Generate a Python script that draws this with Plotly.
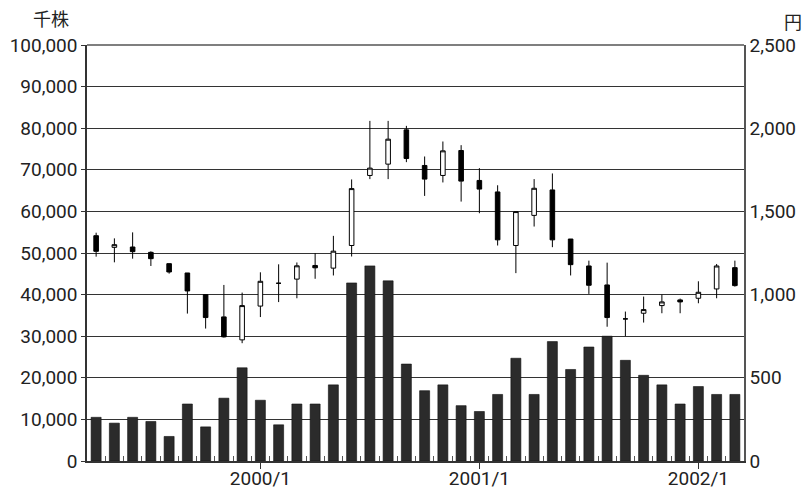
import plotly.graph_objects as go

months = ["1999/4", "1999/5", "1999/6", "1999/7", "1999/8", "1999/9", "1999/10", "1999/11", "1999/12",
          "2000/1", "2000/2", "2000/3", "2000/4", "2000/5", "2000/6", "2000/7", "2000/8", "2000/9",
          "2000/10", "2000/11", "2000/12", "2001/1", "2001/2", "2001/3", "2001/4", "2001/5", "2001/6",
          "2001/7", "2001/8", "2001/9", "2001/10", "2001/11", "2001/12", "2002/1", "2002/2", "2002/3"]

# 出来高 (千株)
volume = [10500, 9100, 10500, 9500, 5900, 13700, 8200, 15100, 22400, 14600, 8700, 13700,
          13700, 18300, 42800, 46900, 43300, 23300, 16900, 18300, 13300, 11900, 16000, 24700,
          16000, 28700, 22000, 27400, 30000, 24200, 20600, 18300, 13700, 17900, 16000, 16000]

# 株価 (円)
price_open = [1354, 1284, 1286, 1254, 1186, 1130, 1000, 866, 728, 931, 1068, 1093,
              1175, 1159, 1295, 1716, 1784, 1990, 1776, 1716, 1866, 1686, 1617, 1295,
              1476, 1629, 1334, 1172, 1058, 854, 888, 934, 968, 978, 1034, 1162]
price_high = [1372, 1338, 1374, 1260, 1186, 1130, 1000, 1058, 1012, 1134, 1182, 1193,
              1249, 1353, 1692, 2044, 2044, 2014, 1830, 1920, 1898, 1760, 1657, 1500,
              1694, 1728, 1334, 1204, 1192, 898, 988, 1000, 976, 1080, 1184, 1204]
price_low = [1228, 1194, 1216, 1172, 1126, 886, 796, 742, 708, 865, 955, 978,
             1095, 1115, 1229, 1694, 1694, 1796, 1593, 1674, 1559, 1489, 1295, 1129,
             1409, 1285, 1115, 1004, 807, 750, 832, 888, 888, 948, 978, 1048]
price_close = [1260, 1300, 1258, 1216, 1136, 1022, 862, 746, 934, 1080, 1068, 1173,
               1161, 1261, 1637, 1760, 1934, 1818, 1694, 1864, 1682, 1634, 1329, 1499,
               1639, 1329, 1180, 1056, 862, 854, 910, 956, 956, 1014, 1172, 1054]

tick_labels = ["2000/1", "2001/1", "2002/1"]
left_ticks = [0, 10000, 20000, 30000, 40000, 50000, 60000, 70000, 80000, 90000, 100000]
right_ticks = [0, 500, 1000, 1500, 2000, 2500]

x = list(range(len(months)))
tick_pos = [months.index(t) for t in tick_labels]

NUMFONT = "Roboto, Noto Sans, sans-serif"
JPFONT = "Noto Sans CJK JP, sans-serif"
TXT = "#222222"

fig = go.Figure()
fig.add_trace(go.Bar(
    x=x, y=volume, width=0.55,
    marker=dict(color="#2b2b2b", line=dict(color="#111111", width=0.6)),
    yaxis="y", showlegend=False, hoverinfo="skip"))
fig.add_trace(go.Candlestick(
    x=x, open=price_open, high=price_high, low=price_low, close=price_close,
    yaxis="y2", showlegend=False, whiskerwidth=0,
    increasing=dict(fillcolor="#ffffff", line=dict(color="#000000", width=1)),
    decreasing=dict(fillcolor="#000000", line=dict(color="#000000", width=1))))

fig.update_layout(
    width=806, height=490,
    margin=dict(l=87, r=62, t=45, b=29, autoexpand=False),
    paper_bgcolor="white", plot_bgcolor="white",
    boxgap=0.64,
    font=dict(family=NUMFONT, size=19, color=TXT),
    xaxis=dict(
        range=[-0.5, len(months) - 0.5], automargin=False,
        tickmode="array", tickvals=tick_pos, ticktext=tick_labels,
        ticks="outside", ticklen=6, tickcolor="#333333", tickwidth=1,
        ticklabelstandoff=-7,
        showgrid=False, zeroline=False,
        showline=True, linecolor="#333333", linewidth=1.5,
        rangeslider=dict(visible=False),
        minor=dict(tickmode="array", tickvals=[i + 0.5 for i in x[:-1]],
                   ticks="inside", ticklen=5, tickcolor="#555555", tickwidth=1, showgrid=False),
        tickfont=dict(family=NUMFONT, size=19, color=TXT),
    ),
    yaxis=dict(
        range=[0, 100000], automargin=False,
        tickmode="array", tickvals=left_ticks, tickformat=",",
        ticks="outside", ticklen=4, tickcolor="#333333",
        showgrid=True, gridcolor="#333333", gridwidth=1,
        zeroline=False, showline=True, linecolor="#333333", linewidth=1.5,
        tickfont=dict(family=NUMFONT, size=19, color=TXT),
    ),
    yaxis2=dict(
        range=[0, 2500], automargin=False,
        tickmode="array", tickvals=right_ticks, tickformat=",",
        overlaying="y", side="right", anchor="x",
        ticks="", showgrid=False, zeroline=False,
        showline=True, linecolor="#555555", linewidth=1.5,
        tickfont=dict(family=NUMFONT, size=19, color=TXT),
    ),
    shapes=[dict(type="line", xref="paper", yref="paper", x0=0, x1=1, y0=1, y1=1,
                 line=dict(color="#555555", width=1.5))],
    annotations=[
        dict(text="千株", xref="paper", yref="paper", x=-0.055, y=1.0, yshift=27,
             xanchor="center", yanchor="middle", showarrow=False,
             font=dict(family=JPFONT, size=18, color=TXT)),
        dict(text="円", xref="paper", yref="paper", x=1.0, xshift=49, y=1.0, yshift=24,
             xanchor="center", yanchor="middle", showarrow=False,
             font=dict(family=JPFONT, size=18, color=TXT)),
    ],
)

fig.write_html("out.html", config={"displayModeBar": False},
               post_script="document.body.style.margin='0';document.body.style.overflow='hidden';")
